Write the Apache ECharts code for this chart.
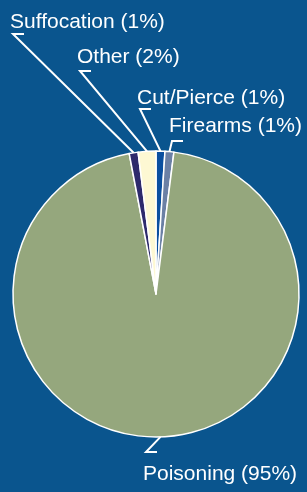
<!DOCTYPE html>
<html>
<head>
<meta charset="utf-8">
<script src="https://cdn.jsdelivr.net/npm/echarts@6/dist/echarts.min.js"></script>
<style>
    html, body { margin: 0; padding: 0; background: #0a558e; }
    #chart { width: 307px; height: 492px; }
</style>
</head>
<body>
<div id="chart"></div>
<script>
    // slices, clockwise from 12 o'clock
    var causes = ['Cut/Pierce', 'Firearms', 'Poisoning', 'Suffocation', 'Other'];
    var shares = [1, 1, 95, 1, 2];
    var sliceColors = ['#0a4f9f', '#6b80a5', '#95a77d', '#2d2a6c', '#fdf8d3'];

    // label placement: [left x, top y, leader line offset from top]
    var labelPlace = [
        [137, 88, 21],
        [169, 116, 25],
        [143, 464, -12],
        [10, 12, 22],
        [77, 47, 24]
    ];

    var chart = echarts.init(document.getElementById('chart'));

    var option = {
        backgroundColor: '#0a558e',
        series: [{
            type: 'pie',
            center: [156, 294],
            radius: 143,
            startAngle: 90,
            clockwise: true,
            avoidLabelOverlap: false,
            silent: true,
            animation: false,
            itemStyle: {
                borderColor: '#ffffff',
                borderWidth: 1.5
            },
            label: {
                show: true,
                position: 'outside',
                color: '#ffffff',
                fontFamily: '"Liberation Sans", Arial, sans-serif',
                fontSize: 21,
                formatter: function (p) {
                    return p.name + ' (' + p.value + '%)';
                }
            },
            labelLine: {
                show: true,
                smooth: false,
                lineStyle: { color: '#ffffff', width: 2 }
            },
            labelLayout: function (p) {
                var pl = labelPlace[p.dataIndex];
                var start = p.labelLinePoints ? p.labelLinePoints[0]
                    : [p.rect.x + p.rect.width / 2, p.rect.y];
                var ly = pl[1] + pl[2];
                return {
                    x: pl[0],
                    y: pl[1],
                    align: 'left',
                    verticalAlign: 'top',
                    labelLinePoints: [start, [pl[0] + 3, ly], [pl[0] + 14, ly]]
                };
            },
            data: causes.map(function (c, i) {
                return { name: c, value: shares[i], itemStyle: { color: sliceColors[i] } };
            })
        }]
    };

    chart.setOption(option);
</script>
</body>
</html>
